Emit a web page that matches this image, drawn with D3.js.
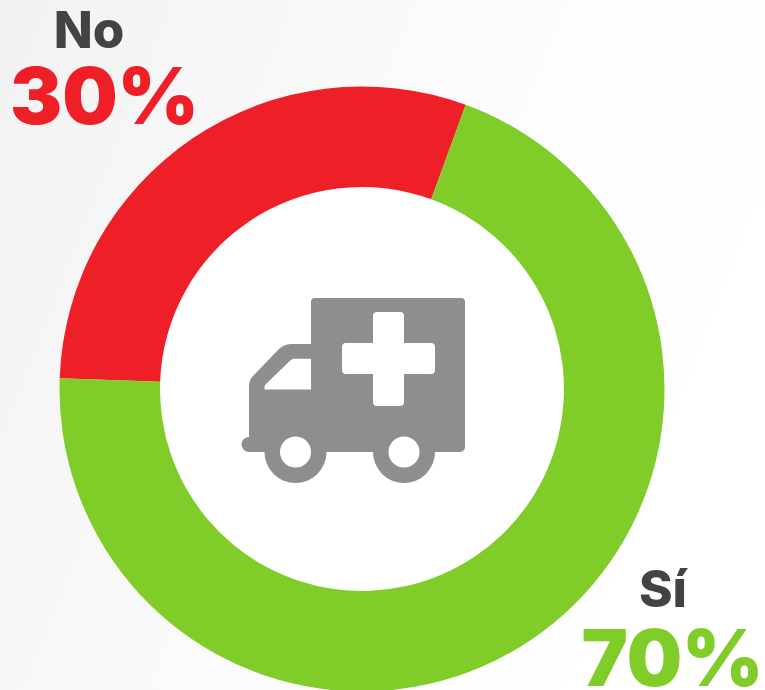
<!DOCTYPE html>
<html><head><meta charset="utf-8">
<script src="https://cdn.jsdelivr.net/npm/d3@7"></script>
<style>html,body{margin:0;padding:0;background:#fff;overflow:hidden}</style>
</head><body><div id="c"></div>
<script>
const categories=["No","Sí"];
const values=[30,70];
const labels=["30%","70%"];
const colors=["#ef1f27","#80cc28"];
const W=765,H=690,cx=362,cy=389,rO=302.5,rI=202;
const svg=d3.select("#c").append("svg").attr("width",W).attr("height",H).style("display","block");
const defs=svg.append("defs");
const g0=defs.append("linearGradient").attr("id","bg").attr("x1",0).attr("y1",0).attr("x2",1).attr("y2",0.35);
g0.append("stop").attr("offset",0).attr("stop-color","#f2f2f3");
g0.append("stop").attr("offset",0.6).attr("stop-color","#fcfcfc");
g0.append("stop").attr("offset",1).attr("stop-color","#ffffff");
svg.append("rect").attr("width",W).attr("height",H).attr("fill","url(#bg)");
const a0=-1.535;
const pie=d3.pie().sort(null).startAngle(a0).endAngle(a0+2*Math.PI)(values);
const arc=d3.arc().innerRadius(rI).outerRadius(rO);
const p=svg.append("g").attr("transform",`translate(${cx},${cy})`);
p.append("circle").attr("r",rI).attr("fill","#fff");
p.selectAll("path").data(pie).join("path").attr("d",arc).attr("fill",(d,i)=>colors[i]);
const ic=svg.append("g").attr("fill","#8e8e8e");
ic.append("path").attr("fill-rule","evenodd").attr("d","M315 298H461a4 4 0 0 1 4 4V447a5 5 0 0 1 -5 5H249V386a14 14 0 0 1 4 -10L278 350a20 20 0 0 1 13 -6H311V302a4 4 0 0 1 4 -4ZM264.500 389.500H311V358.700H294a6 6 0 0 0 -4 2L266 384a4 4 0 0 0 -1.500 3Z M346 343H373V316a4 4 0 0 1 4 -4H400a4 4 0 0 1 4 4V343H431a4 4 0 0 1 4 4V370a4 4 0 0 1 -4 4H404V402a4 4 0 0 1 -4 4H377a4 4 0 0 1 -4 -4V374H346a4 4 0 0 1 -4 -4V347a4 4 0 0 1 4 -4Z");
ic.append("rect").attr("x",241.5).attr("y",437).attr("width",30).attr("height",15).attr("rx",7.5);
[295.500,404].forEach(x=>{
  ic.append("circle").attr("cx",x).attr("cy",452).attr("r",31);
  ic.append("circle").attr("cx",x).attr("cy",452).attr("r",15.5).attr("fill","#fff");
});
const F="Inter,'Liberation Sans',Arial,sans-serif";
const t=[{x:89,y:48,s:51,wt:800,c:"#434345",w:"No"},{x:104.5,y:123.5,s:78,wt:900,c:colors[0],w:labels[0]},{x:663,y:607,s:51,wt:800,c:"#434345",w:"Sí"},{x:672.5,y:686,s:78,wt:900,c:colors[1],w:labels[1]}];
svg.selectAll("text").data(t).join("text").attr("x",d=>d.x).attr("y",d=>d.y).attr("text-anchor","middle").attr("font-family",F).attr("font-weight",d=>d.wt).attr("font-size",d=>d.s).attr("fill",d=>d.c).text(d=>d.w);
</script></body></html>
